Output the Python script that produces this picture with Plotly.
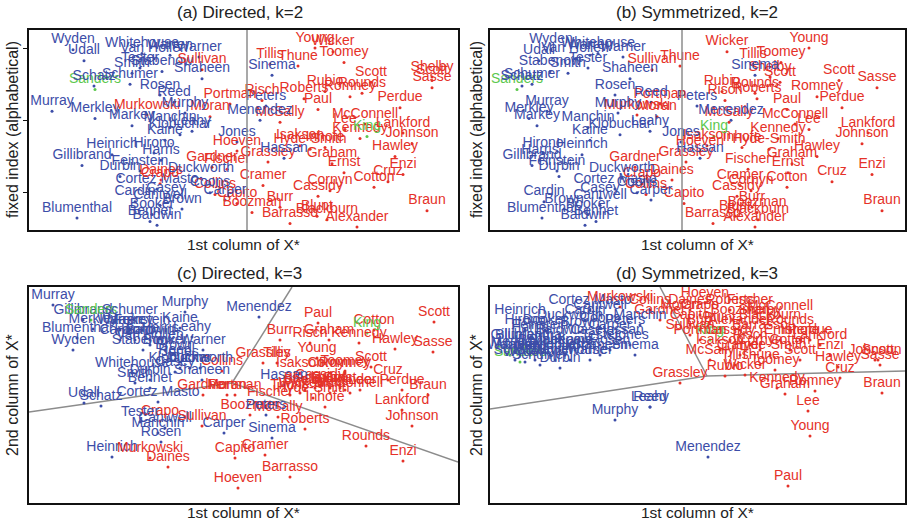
import plotly.graph_objects as go

names = ["Alexander","Baldwin","Barrasso","Bennet","Blackburn","Blumenthal","Blunt","Booker","Boozman","Braun",
 "Brown","Burr","Cantwell","Capito","Cardin","Carper","Casey","Cassidy","Collins","Coons",
 "Cornyn","Cortez Masto","Cotton","Cramer","Crapo","Cruz","Daines","Duckworth","Durbin","Enzi",
 "Ernst","Feinstein","Fischer","Gardner","Gillibrand","Graham","Grassley","Harris","Hassan","Hawley",
 "Heinrich","Hirono","Hoeven","Hyde-Smith","Inhofe","Isakson","Johnson","Jones","Kaine","Kennedy",
 "King","Klobuchar","Lankford","Leahy","Lee","Manchin","Markey","McConnell","McSally","Menendez",
 "Merkley","Moran","Murkowski","Murphy","Murray","Paul","Perdue","Peters","Portman","Reed",
 "Risch","Roberts","Romney","Rosen","Rounds","Rubio","Sanders","Sasse","Schatz","Schumer",
 "Scott","Scott","Shaheen","Shelby","Sinema","Smith","Stabenow","Sullivan","Tester","Thune",
 "Tillis","Toomey","Udall","Van Hollen","Warner","Warren","Whitehouse","Wicker","Wyden","Young"]

party = list("RDRDRDRDRR" "DRDRDDDRRD" "RDRRRRRDDR" "RDRRDRRDDR" "DDRRRRRDDR"
             "IDRDRDDRRD" "DRRDDRRDRD" "RRRDRRIRDD" "RRDRDDDRDR" "RRDDDDDRDR")

fixed_index = [1,2,3,4,5,6,7,8,9,10,11,12,13,14,15,16,17,18,19,20,
 21,22,23,24,25,26,27,28,29,30,31,32,33,34,35,36,37,38,39,40,
 41,42,43,44,45,46,47,48,49,50,51,52,53,54,55,56,57,58,59,60,
 61,62,63,64,65,66,67,68,69,70,71,72,73,74,75,76,77,78,79,80,
 81,82,83,84,85,86,87,88,89,90,91,92,93,94,95,96,97,98,99,100]

# (a) Directed, k=2 : 1st column of X*
x_a = [1.10,-0.90,0.43,-0.97,0.80,-1.70,0.70,-0.95,0.05,1.80,
 -0.65,0.33,-0.87,-0.10,-1.12,-0.22,-0.81,0.71,-0.32,-0.37,
 0.83,-0.90,1.27,0.16,-0.87,1.41,-0.86,-0.46,-1.27,1.56,
 0.97,-1.07,-0.20,-0.35,-1.65,0.85,0.21,-0.86,0.37,1.48,
 -1.35,-0.93,-0.10,0.63,0.78,0.53,1.65,-0.10,-0.82,1.13,
 1.20,-0.67,1.56,-0.55,0.98,-0.77,-1.15,1.18,0.33,0.13,
 -1.52,-0.37,-1.00,-0.62,-1.95,0.71,1.53,0.19,-0.17,-0.73,
 0.15,0.57,1.03,-0.87,1.15,0.78,-1.52,1.85,-1.53,-1.17,
 1.24,1.85,-0.45,1.85,0.25,-1.15,-0.85,-0.45,-1.07,0.51,
 0.23,0.97,-1.63,-0.93,-0.48,-0.77,-1.05,0.86,-1.74,0.68]

# (b) Symmetrized, k=2 : 1st column of X*
x_b = [0.73,-0.97,0.31,-0.86,0.76,-1.40,0.53,-0.94,0.75,2.00,
 -1.18,0.70,-0.82,0.02,-1.38,-0.31,-0.82,0.55,-0.36,-0.45,
 0.69,-0.67,1.05,0.58,-0.40,1.50,-0.10,-0.60,-1.23,1.90,
 1.06,-1.25,0.66,-0.47,-1.50,1.10,0.04,-1.42,0.18,1.35,
 -1.00,-1.39,0.18,0.87,0.60,0.25,1.80,-0.01,-0.92,0.96,
 0.32,-0.62,1.86,-0.32,1.27,-0.94,-1.45,1.13,0.47,0.49,
 -1.53,-0.25,-0.45,-0.64,-1.35,1.05,1.60,0.15,-0.22,-0.31,
 0.43,0.75,1.35,-0.67,0.73,0.40,-1.65,1.95,-1.60,-1.50,
 0.98,1.57,-0.52,0.88,0.73,-1.14,-1.32,-0.30,-0.94,-0.02,
 0.71,0.99,-1.43,-1.07,-0.59,-0.92,-0.84,0.45,-1.31,1.27]

# (c) Directed, k=3 : 1st and 2nd columns of X*
x_c = [1.05,-0.90,0.50,-0.90,0.75,-1.63,0.90,-0.75,0.10,1.88,
 -0.65,0.40,-0.75,-0.05,-1.20,-0.16,-0.65,0.80,-0.18,-0.50,
 0.90,-0.82,1.34,0.25,-0.80,1.48,-0.72,-0.40,-0.90,1.63,
 1.00,-0.98,0.30,-0.37,-1.57,0.89,0.23,-0.80,0.44,1.55,
 -1.28,-1.05,-0.02,0.73,0.85,0.60,1.72,-0.60,-0.60,1.19,
 1.27,-0.60,1.62,-0.48,1.20,-0.82,-1.10,1.10,0.38,0.19,
 -1.47,-0.13,-0.90,-0.55,-1.87,0.78,1.62,0.26,-0.05,-0.65,
 0.70,0.65,1.05,-0.79,1.26,0.90,-1.49,1.93,-1.39,-1.10,
 1.94,1.31,-0.38,0.65,0.32,-1.05,-0.97,-0.38,-1.00,0.50,
 0.37,1.05,-1.56,-0.90,-0.37,-1.20,-1.08,0.60,-1.67,0.77]
y_c = [0.13,0.63,-0.74,0.15,0.15,0.65,0.10,0.53,-0.12,0.08,
 0.48,0.63,-0.25,-0.55,0.63,-0.30,0.31,0.18,0.32,0.35,
 0.30,0.01,0.73,-0.52,-0.18,0.23,-0.64,0.35,0.23,-0.58,
 0.15,0.73,0.01,0.08,0.83,0.63,0.40,0.65,0.18,0.54,
 -0.54,0.63,-0.85,0.05,-0.04,0.30,-0.23,0.41,0.75,0.60,
 0.70,0.35,-0.07,0.66,0.13,-0.30,0.73,0.10,-0.14,0.86,
 0.74,0.08,-0.55,0.91,0.98,0.80,0.13,-0.12,0.08,0.43,
 0.60,-0.26,0.30,-0.39,-0.43,0.15,0.83,0.51,-0.03,0.83,
 0.81,0.36,0.23,0.13,-0.35,0.20,0.53,-0.23,-0.19,0.08,
 0.40,0.32,0.00,0.58,0.53,0.73,0.30,0.10,0.53,0.45]

# (d) Symmetrized, k=3 : 1st and 2nd columns of X*
x_d = [0.40,-1.40,0.60,-1.60,0.70,-1.70,0.20,-1.55,0.40,1.82,
 -1.20,0.00,-1.00,-0.10,-1.15,-0.90,-1.10,0.30,-0.50,-1.00,
 0.60,-1.10,0.90,0.40,0.00,1.40,-0.10,-1.30,-1.40,1.30,
 0.80,-1.60,0.50,-0.40,-1.80,0.85,-0.20,-1.70,-0.80,1.38,
 -1.80,-1.75,0.05,0.70,1.00,0.20,1.75,-0.70,-1.25,0.77,
 0.10,-1.35,1.20,-0.50,1.08,-0.60,-1.80,0.80,0.10,0.08,
 -1.85,-0.20,-0.80,-0.85,-1.65,0.88,1.10,-0.75,0.00,-0.50,
 0.50,0.30,1.15,-0.90,0.90,0.25,-1.80,1.80,-1.85,-1.60,
 1.78,1.00,-1.00,0.60,-0.65,-1.45,-1.40,-0.10,-1.00,0.60,
 0.35,0.75,-1.70,-1.50,-1.10,-1.90,-1.30,0.45,-1.75,1.10]
y_d = [0.73,0.63,0.68,0.53,0.78,0.58,0.75,0.73,0.83,0.10,
 0.71,0.73,0.88,0.78,0.83,0.68,0.63,0.63,0.93,0.75,
 0.53,0.93,0.53,0.48,0.88,0.25,0.93,0.78,0.35,0.48,
 0.63,0.68,0.93,0.83,0.58,0.09,0.20,0.65,0.63,0.36,
 0.83,0.73,1.00,0.48,0.63,0.53,0.43,0.58,0.53,0.15,
 0.63,0.48,0.58,-0.04,-0.08,0.78,0.48,0.87,0.43,-0.54,
 0.51,0.88,0.96,-0.17,0.43,-0.83,0.63,0.73,0.63,-0.04,
 0.58,0.93,0.12,0.53,0.73,0.27,0.41,0.38,0.43,0.38,
 0.43,0.43,0.48,0.83,0.48,0.43,0.53,0.68,0.58,0.38,
 0.38,0.33,0.48,0.48,0.43,0.48,0.43,0.28,0.41,-0.33]

# cluster boundaries
split_a = 0.0
split_b = 0.0
bound_c_x = [[-2.11, -0.08], [-0.08, 0.52], [-0.08, 2.18]]
bound_c_y = [[-0.09, 0.20], [0.20, 1.16], [0.20, -0.59]]
bound_d_x = [[-2.10, 0.07], [0.07, 2.05], [0.07, -0.40]]
bound_d_y = [[-0.06, 0.27], [0.27, 0.32], [0.27, 1.16]]

colors = {"D": "#3c4da8", "R": "#e53128", "I": "#5cc84e"}
pc = [colors[p] for p in party]
FONT = "Liberation Sans, Arial, Helvetica, sans-serif"

W, H = 909, 524
def dom_x(a, b): return [a / W, b / W]
def dom_y(top, bot): return [1 - bot / H, 1 - top / H]

panels = [
    dict(xs=x_a, ys=fixed_index, xr=[-2.18, 2.11], yr=[-0.64, 109.96], px=(29, 458), py=(30, 230)),
    dict(xs=x_b, ys=fixed_index, xr=[-1.92, 2.23], yr=[-0.64, 109.96], px=(490, 905), py=(30, 230)),
    dict(xs=x_c, ys=y_c, xr=[-2.11, 2.18], yr=[-1.00, 1.16], px=(29, 458), py=(287, 503)),
    dict(xs=x_d, ys=y_d, xr=[-2.10, 2.05], yr=[-1.00, 1.16], px=(490, 905), py=(287, 503)),
]

fig = go.Figure()
layout = dict(width=W, height=H, margin=dict(l=0, r=0, t=0, b=0),
              paper_bgcolor="white", plot_bgcolor="white", showlegend=False,
              font=dict(family=FONT, size=14, color="#222"))
for i, p in enumerate(panels):
    n = "" if i == 0 else str(i + 1)
    xa, ya = "x" + n, "y" + n
    bx_list, by_list = ([], [])
    if i == 2:
        bx_list, by_list = bound_c_x, bound_c_y
    if i == 3:
        bx_list, by_list = bound_d_x, bound_d_y
    for bx, by in zip(bx_list, by_list):
        fig.add_trace(go.Scatter(x=bx, y=by, mode="lines", xaxis=xa, yaxis=ya,
                                 line=dict(color="#8c8c8c", width=1.5), hoverinfo="skip"))
    fig.add_trace(go.Scatter(x=p["xs"], y=p["ys"], text=names, mode="markers+text",
                             xaxis=xa, yaxis=ya, textposition="top center",
                             marker=dict(size=3, color=pc),
                             textfont=dict(family=FONT, size=14, color=pc)))
    layout["xaxis" + n] = dict(domain=dom_x(*p["px"]), range=p["xr"], anchor=ya,
                               showgrid=False, zeroline=False, showticklabels=False,
                               showline=True, mirror=True, linecolor="#111", linewidth=1.5,
                               ticks="")
    layout["yaxis" + n] = dict(domain=dom_y(*p["py"]), range=p["yr"], anchor=xa,
                               showgrid=False, zeroline=False, showticklabels=False,
                               showline=True, mirror=True, linecolor="#111", linewidth=1.5,
                               ticks="outside" if i == 0 else "", ticklen=4, tickcolor="#111",
                               tickvals=[20, 60, 100] if i == 0 else None)

fig.update_layout(**layout)
fig.add_shape(type="line", xref="x", yref="y domain", x0=split_a, x1=split_a, y0=0, y1=1,
              line=dict(color="#8c8c8c", width=1.5))
fig.add_shape(type="line", xref="x2", yref="y2 domain", x0=split_b, x1=split_b, y0=0, y1=1,
              line=dict(color="#8c8c8c", width=1.5))

titles = [("(a) Directed, k=2", 240, 12), ("(b) Symmetrized, k=2", 697, 12),
          ("(c) Directed, k=3", 240, 273), ("(d) Symmetrized, k=3", 697, 273)]
for t, x, y in titles:
    fig.add_annotation(text=t, x=x / W, y=1 - y / H, xref="paper", yref="paper",
                       showarrow=False, font=dict(family=FONT, size=17, color="#222"),
                       xanchor="center", yanchor="middle")
xt = [(243, 244), (697, 244), (243, 512), (697, 512)]
for x, y in xt:
    fig.add_annotation(text="1st column of X*", x=x / W, y=1 - y / H, xref="paper", yref="paper",
                       showarrow=False, font=dict(family=FONT, size=15.5, color="#222"),
                       xanchor="center", yanchor="middle")
yt = [("fixed index (alphabetical)", 12, 130), ("fixed index (alphabetical)", 476, 130),
      ("2nd column of X*", 12, 395), ("2nd column of X*", 476, 395)]
for t, x, y in yt:
    fig.add_annotation(text=t, x=x / W, y=1 - y / H, xref="paper", yref="paper",
                       showarrow=False, textangle=-90, font=dict(family=FONT, size=16, color="#222"),
                       xanchor="center", yanchor="middle")

fig.write_html("out.html")
